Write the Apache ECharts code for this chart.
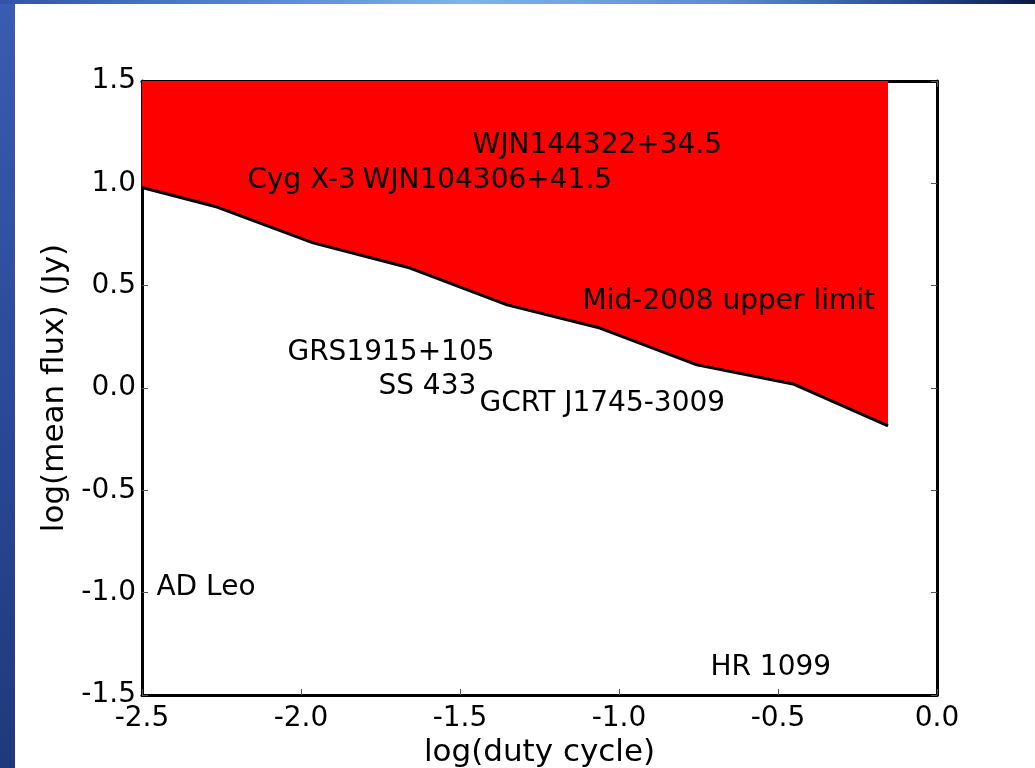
<!DOCTYPE html>
<html>
<head>
<meta charset="utf-8">
<script src="https://cdn.jsdelivr.net/npm/echarts@6/dist/echarts.min.js"></script>
<style>
  html, body { margin: 0; padding: 0; width: 1035px; height: 768px; overflow: hidden; }
  body { background: linear-gradient(180deg, #3a5cb2 0%, #2b4a98 50%, #1e3a7c 100%); position: relative; }
  #topband { position: absolute; left: 0; top: 0; width: 1035px; height: 4px;
    background: linear-gradient(90deg, #3352a8 0%, #5f92dc 30%, #7fb4ea 45%, #5c8cd6 70%, #2a4a98 88%, #0c1a42 100%); }
  #main { position: absolute; left: 15px; top: 4px; width: 1020px; height: 764px; background: #fff; }
</style>
</head>
<body>
<div id="topband"></div>
<div id="main"></div>
<script>
// upper limit curve: log(duty cycle) vs log(mean flux)
const dutyX = [-2.5, -2.264, -1.962, -1.657, -1.352, -1.06, -0.755, -0.453, -0.154];
const fluxY = [0.98, 0.884, 0.709, 0.586, 0.406, 0.293, 0.113, 0.02, -0.185];

// source annotations (text placed at data coords, left/baseline)
const srcNames = ['WJN144322+34.5', 'Cyg X-3', 'WJN104306+41.5', 'Mid-2008 upper limit',
    'GRS1915+105', 'SS 433', 'GCRT J1745-3009', 'AD Leo', 'HR 1099'];
const srcX = [-1.459, -2.167, -1.805, -1.113, -2.041, -1.755, -1.437, -2.453, -0.711];
const srcY = [1.148, 0.977, 0.977, 0.386, 0.137, -0.029, -0.112, -1.011, -1.402];

const fontFam = 'DejaVu Sans';
const fmt = v => v.toFixed(1);

let curve = dutyX.map((x, i) => [x, fluxY[i]]);
let notes = srcNames.map((n, i) => ({ value: [srcX[i], srcY[i]], name: n }));

let myChart = echarts.init(document.getElementById('main'));

const tickIn = { show: true, inside: true, length: 6, lineStyle: { color: '#555', width: 1 } };
const boxLine = { show: true, onZero: false, lineStyle: { color: '#000', width: 3 } };

let option = {
    animation: false,
    backgroundColor: '#fff',
    grid: { left: 127, right: 98, top: 77, bottom: 73, outerBoundsMode: 'none', containLabel: false },
    xAxis: [
        {
            type: 'value', min: -2.5, max: 0, interval: 0.5, position: 'bottom',
            axisLine: boxLine, axisTick: tickIn, splitLine: { show: false },
            axisLabel: { formatter: fmt, color: '#000', fontFamily: fontFam, fontSize: 28, margin: 10 },
            name: 'log(duty cycle)', nameLocation: 'middle', nameGap: 32,
            nameTextStyle: { color: '#000', fontFamily: fontFam, fontSize: 31 }
        },
        {
            type: 'value', min: -2.5, max: 0, interval: 0.5, position: 'top',
            axisLine: boxLine, axisTick: tickIn, splitLine: { show: false },
            axisLabel: { show: false }
        }
    ],
    yAxis: [
        {
            type: 'value', min: -1.5, max: 1.5, interval: 0.5, position: 'left',
            axisLine: boxLine, axisTick: tickIn, splitLine: { show: false },
            axisLabel: { formatter: fmt, color: '#000', fontFamily: fontFam, fontSize: 28, margin: 6 },
            name: 'log(mean flux) (Jy)', nameLocation: 'middle', nameGap: 62, nameRotate: 90,
            nameTextStyle: { color: '#000', fontFamily: fontFam, fontSize: 31 }
        },
        {
            type: 'value', min: -1.5, max: 1.5, interval: 0.5, position: 'right',
            axisLine: boxLine, axisTick: tickIn, splitLine: { show: false },
            axisLabel: { show: false }
        }
    ],
    series: [
        {
            name: 'limit',
            type: 'line',
            data: curve,
            symbol: 'none',
            lineStyle: { color: '#000', width: 3 },
            areaStyle: { origin: 'end', color: '#ff0000', opacity: 1 },
            z: 2
        },
        {
            name: 'sources',
            type: 'scatter',
            data: notes,
            symbolSize: 1,
            itemStyle: { color: 'rgba(0,0,0,0)' },
            label: {
                show: true,
                position: [0, 0],
                align: 'left',
                verticalAlign: 'bottom',
                offset: [0, 7],
                formatter: p => p.name,
                color: '#000',
                opacity: 1,
                textBorderWidth: 0,
                fontFamily: fontFam,
                fontSize: 28
            },
            z: 3
        }
    ]
};

myChart.setOption(option);
</script>
</body>
</html>
